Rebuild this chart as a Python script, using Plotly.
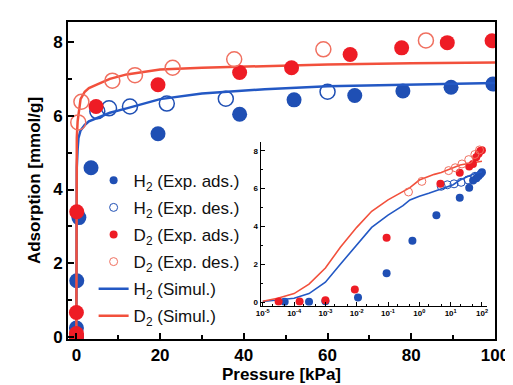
import plotly.graph_objects as go

# ---------------- data ----------------
# H2 experimental adsorption
h2_ads_p = [5e-5, 3e-4, 1e-3, 1.1e-2, 0.09, 0.6, 3.5, 19.5, 39, 52, 66.5, 78, 89.5, 99.5]
h2_ads_q = [0.02, 0.02, 0.04, 0.25, 1.53, 3.24, 4.59, 5.51, 6.04, 6.43, 6.55, 6.67, 6.77, 6.86]
# H2 experimental desorption
h2_des_p = [5.0, 7.8, 12.8, 21.6, 35.7, 60]
h2_des_q = [6.12, 6.2, 6.25, 6.33, 6.46, 6.65]
# D2 experimental adsorption
d2_ads_p = [3.2e-5, 1.5e-4, 1e-3, 8.7e-3, 0.09, 4.7, 19.5, 39, 51.4, 65.4, 77.7, 88.6, 99.3]
d2_ads_q = [0.03, 0.03, 0.1, 0.67, 3.4, 6.25, 6.84, 7.17, 7.3, 7.66, 7.84, 7.98, 8.03]
# D2 experimental desorption
d2_des_p = [0.45, 1.2, 8.6, 14, 23, 37.7, 59, 83.5]
d2_des_q = [5.82, 6.38, 6.95, 7.1, 7.3, 7.53, 7.8, 8.04]
# simulated isotherms
sim_p = [1e-5, 3e-5, 1e-4, 3e-4, 1e-3, 3e-3, 1e-2, 3e-2, 0.1, 0.3, 0.5, 1, 2, 3, 5, 8, 12, 20, 30, 45, 60, 80, 100]
sim_h2 = [0.03, 0.1, 0.2, 0.45, 1.05, 2.0, 3.05, 3.95, 4.6, 5.1, 5.4, 5.6, 5.75, 5.85, 5.95, 6.08, 6.2, 6.45, 6.6, 6.72, 6.8, 6.85, 6.89]
sim_d2 = [0.05, 0.2, 0.45, 0.95, 1.8, 2.9, 3.95, 4.8, 5.4, 5.85, 6.05, 6.45, 6.65, 6.75, 6.85, 7.0, 7.12, 7.25, 7.3, 7.35, 7.39, 7.42, 7.44]

# inset log-axis ticks
inset_tickvals = [1e-5, 1e-4, 1e-3, 1e-2, 1e-1, 1, 10, 100]
inset_ticktext = ["10<sup>-5</sup>", "10<sup>-4</sup>", "10<sup>-3</sup>", "10<sup>-2</sup>",
                  "10<sup>-1</sup>", "10<sup>0</sup>", "10<sup>1</sup>", "10<sup>2</sup>"]

legend_names = ["H<sub>2</sub> (Exp. ads.)", "H<sub>2</sub> (Exp. des.)",
                "D<sub>2</sub> (Exp. ads.)", "D<sub>2</sub> (Exp. des.)",
                "H<sub>2</sub> (Simul.)", "D<sub>2</sub> (Simul.)"]

BLUE = "#1f4fb4"
RED = "#ee1c25"
BLUE_L = "#2358c4"
RED_L = "#f2503c"
RED_O = "#f07060"

fig = go.Figure()

def pts(x, y, filled, color, size, lw, xa, ya, name, show, rank):
    if filled:
        m = dict(size=size, color=color, line=dict(width=0))
    else:
        m = dict(size=size, symbol="circle-open", color=color, line=dict(width=lw, color=color))
    return go.Scatter(x=x, y=y, mode="markers", marker=m, xaxis=xa, yaxis=ya,
                      name=name, showlegend=show, legendgroup="g%d" % rank, legendrank=rank)

def line(x, y, color, w, xa, ya, name, show, rank):
    return go.Scatter(x=x, y=y, mode="lines", line=dict(color=color, width=w), xaxis=xa, yaxis=ya,
                      name=name, showlegend=show, legendgroup="g%d" % rank, legendrank=rank)

# main plot
fig.add_trace(pts(h2_ads_p, h2_ads_q, True, BLUE, 15, 0, "x", "y", legend_names[0], False, 1))
fig.add_trace(pts(h2_des_p, h2_des_q, False, BLUE, 15, 1.5, "x", "y", legend_names[1], False, 2))
fig.add_trace(line(sim_p, sim_h2, BLUE_L, 2.5, "x", "y", legend_names[4], True, 5))
fig.add_trace(line(sim_p, sim_d2, RED_L, 2.5, "x", "y", legend_names[5], True, 6))
fig.add_trace(pts(d2_ads_p, d2_ads_q, True, RED, 15, 0, "x", "y", legend_names[2], False, 3))
fig.add_trace(pts(d2_des_p, d2_des_q, False, RED_O, 15, 1.5, "x", "y", legend_names[3], False, 4))

# inset
fig.add_trace(pts(h2_ads_p, h2_ads_q, True, BLUE, 8, 0, "x2", "y2", legend_names[0], True, 1))
fig.add_trace(pts(h2_des_p, h2_des_q, False, BLUE, 8, 1, "x2", "y2", legend_names[1], True, 2))
fig.add_trace(line(sim_p, sim_h2, BLUE_L, 1.6, "x2", "y2", legend_names[4], False, 5))
fig.add_trace(line(sim_p, sim_d2, RED_L, 1.6, "x2", "y2", legend_names[5], False, 6))
fig.add_trace(pts(d2_ads_p, d2_ads_q, True, RED, 8, 0, "x2", "y2", legend_names[2], True, 3))
fig.add_trace(pts(d2_des_p, d2_des_q, False, RED_O, 8, 1, "x2", "y2", legend_names[3], True, 4))

bold17 = dict(family="Arial, Liberation Sans", size=17, color="black", weight="bold")
bold8 = dict(family="Arial, Liberation Sans", size=8, color="black", weight="bold")

fig.update_layout(
    width=513, height=385,
    margin=dict(l=60, r=16, t=13, b=49),
    paper_bgcolor="white", plot_bgcolor="white",
    font=dict(family="Arial, Liberation Sans", color="black"),
    legend=dict(x=0.06, y=0.556, xanchor="left", yanchor="top",
                bgcolor="rgba(0,0,0,0)", borderwidth=0,
                font=dict(family="Arial, Liberation Sans", size=17, color="#111"),
                traceorder="grouped", tracegroupgap=2),
    xaxis=dict(domain=[0, 1], range=[-2, 100], tickvals=[0, 20, 40, 60, 80, 100],
               ticks="inside", ticklen=6, tickwidth=1.5, tickcolor="black",
               minor=dict(dtick=10, tick0=0, ticks="inside", ticklen=4, tickwidth=1.5, tickcolor="black"),
               showline=True, linecolor="black", linewidth=2, mirror=True,
               showgrid=False, zeroline=False, tickfont=bold17,
               title=dict(text="Pressure [kPa]", font=bold17, standoff=4)),
    yaxis=dict(domain=[0, 1], range=[-0.05, 8.54], tickvals=[0, 2, 4, 6, 8],
               ticks="inside", ticklen=6, tickwidth=1.5, tickcolor="black",
               minor=dict(dtick=1, tick0=0, ticks="inside", ticklen=4, tickwidth=1.5, tickcolor="black"),
               showline=True, linecolor="black", linewidth=2, mirror=True,
               showgrid=False, zeroline=False, tickfont=bold17,
               title=dict(text="Adsorption [mmol/g]", font=bold17, standoff=8)),
    xaxis2=dict(domain=[0.451, 0.982], type="log", range=[-5.07, 2.17], anchor="y2",
                tickvals=inset_tickvals, ticktext=inset_ticktext,
                ticks="inside", ticklen=4, tickwidth=1, tickcolor="black",
                minor=dict(ticks="inside", ticklen=2, tickwidth=0.8, tickcolor="black"),
                showline=True, linecolor="black", linewidth=1, mirror=False,
                showgrid=False, zeroline=False, tickfont=bold8),
    yaxis2=dict(domain=[0.105, 0.622], range=[-0.19, 8.47], anchor="x2",
                tickvals=[0, 2, 4, 6, 8],
                ticks="inside", ticklen=4, tickwidth=1, tickcolor="black",
                minor=dict(dtick=1, tick0=0, ticks="inside", ticklen=2, tickwidth=0.8, tickcolor="black"),
                showline=True, linecolor="black", linewidth=1, mirror=False,
                showgrid=False, zeroline=False, tickfont=bold8),
)

fig.write_html("out.html")
